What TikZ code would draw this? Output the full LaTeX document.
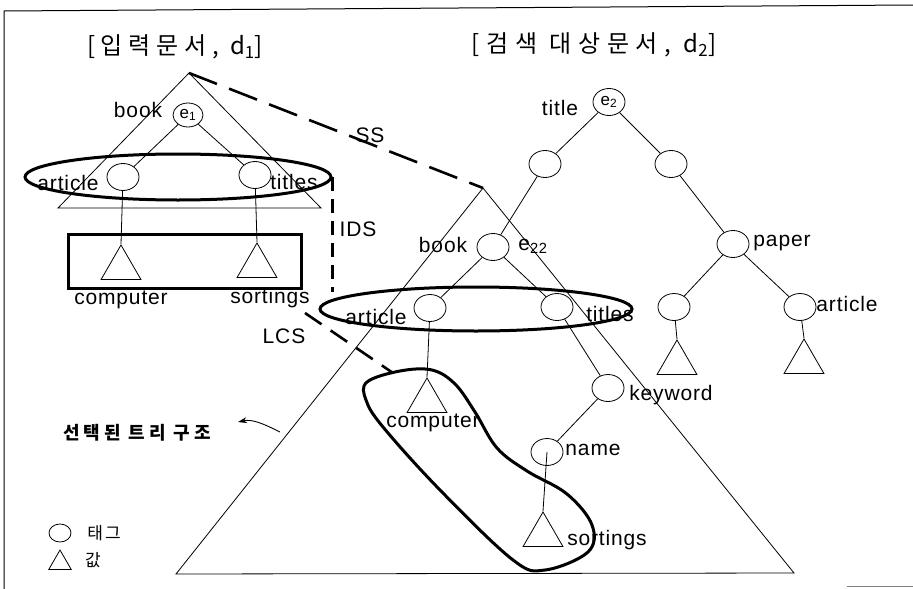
\documentclass[tikz,border=0pt]{standalone}
\usepackage{fontspec}
\setmainfont{Liberation Sans}
\newfontfamily\lbl[LetterSpace=4]{Liberation Sans}
\newfontfamily\krt[LetterSpace=24]{Noto Sans CJK KR}
\newfontfamily\krtb[LetterSpace=28]{Noto Sans CJK KR}
\newfontfamily\krl[LetterSpace=22]{Noto Sans CJK KR}
\newfontfamily\krs[LetterSpace=12]{Noto Sans CJK KR}
\usetikzlibrary{shapes.geometric,arrows.meta,calc}
\begin{document}
\begin{tikzpicture}[x=1pt,y=-1pt,
  tag/.style={draw, ellipse, line width=0.8pt, minimum width=32pt, minimum height=27pt, inner sep=0pt},
  val/.style={draw, regular polygon, regular polygon sides=3, minimum size=46pt, inner sep=0pt, line width=0.8pt},
  lab/.style={font=\fontsize{21}{21}\lbl, inner sep=0pt},
  edge/.style={line width=0.8pt},
  selbox/.style={draw, ellipse, line width=3pt, inner sep=0pt},
  dashlong/.style={line width=2.6pt, dash pattern=on 30pt off 13pt},
  dashshort/.style={line width=2.6pt, dash pattern=on 14pt off 8pt},
  dashmid/.style={line width=2.6pt, dash pattern=on 20pt off 11pt},
  titl/.style={font=\fontsize{24}{24}\krt, inner sep=0pt},
  titlb/.style={font=\fontsize{24}{24}\krtb, inner sep=0pt},
]
\useasboundingbox (0,0) rectangle (913,589);
% frame
\draw[line width=1pt] (913,5) -- (4,11) -- (4,589);
\draw[gray, line width=1pt] (847,586) -- (913,586);

% titles
\node[titl] (t1) at (175,47) {[입력문서, d\textsubscript{1}]};
\node[titlb] (t2) at (594,45) {[검색 대상문서, d\textsubscript{2}]};

% ---------- d1 ----------
\coordinate (A1) at (189,73);
\draw[edge] (A1) -- (58,208) -- (321,208) -- cycle;
\node[tag, minimum width=30pt, minimum height=24pt, fill=white] (e1) at (188,115) {\fontsize{17}{17}\selectfont e\textsubscript{1}};
\node[lab] (lbook1) at (138,110) {book};
\node[tag] (a1) at (123,177) {};
\node[tag] (ti1) at (255,175) {};
\node[lab] (lart1) at (68,183) {article};
\node[lab] (ltit1) at (294,182) {titles};
\node[val] (v1) at (121,268) {};
\node[val] (v2) at (257,266) {};
\draw[edge] (e1) -- (a1);
\draw[edge] (e1) -- (ti1);
\draw[edge] (a1) -- (v1.corner 1);
\draw[edge] (ti1) -- (v2.corner 1);
\node[selbox, minimum width=306pt, minimum height=46pt] (sel1) at (178,177) {};
\draw[line width=3pt] (68,234) rectangle (301,288);
\node[lab] (lcomp1) at (121,300) {computer};
\node[lab] (lsort1) at (270,298) {sortings};

% ---------- d2 ----------
\coordinate (A2) at (483,188);
\draw[edge] (A2) -- (176,574) -- (794,573) -- cycle;
\node[tag, fill=white] (e2) at (609,102) {\fontsize{17}{17}\selectfont e\textsubscript{2}};
\node[lab] (ltitle2) at (560,108) {title};
\node[tag] (l2a) at (545,164) {};
\node[tag] (l2b) at (671,164) {};
\node[tag] (book2) at (493,247) {};
\node[lab] (lbook2) at (443,245) {book};
\node[lab] (le22) at (533,246) {e\textsubscript{22}};
\node[tag] (paper) at (733,244) {};
\node[lab] (lpaper) at (782,243) {paper};
\node[tag] (art2) at (430,308) {};
\node[lab] (lart2) at (376,317) {article};
\node[tag] (tit2) at (557,307) {};
\node[lab] (ltit2) at (610,314) {titles};
\node[tag] (pc1) at (674,307) {};
\node[tag] (pc2) at (800,307) {};
\node[lab] (lart3) at (847,304) {article};
\node[val] (v5) at (677,363) {};
\node[val] (v6) at (804,362) {};
\node[val] (v3) at (427,401) {};
\node[lab] (lcomp2) at (433,423) {computer};
\node[tag] (kw) at (608,388) {};
\node[lab] (lkw) at (671,395) {keyword};
\node[tag] (name) at (547,452) {};
\node[lab] (lname) at (593,450) {name};
\node[val] (v4) at (543,535) {};
\node[lab] (lsort2) at (607,540) {sortings};

\draw[edge] (e2) -- (l2a);
\draw[edge] (e2) -- (l2b);
\draw[edge] (l2a) -- (book2);
\draw[edge] (l2b) -- (paper);
\draw[edge] (book2) -- (art2);
\draw[edge] (book2) -- (tit2);
\draw[edge] (paper) -- (pc1);
\draw[edge] (paper) -- (pc2);
\draw[edge] (pc1) -- (v5.corner 1);
\draw[edge] (pc2) -- (v6.corner 1);
\draw[edge] (art2) -- (v3.corner 1);
\draw[edge] (tit2) -- (kw);
\draw[edge] (kw) -- (name);
\draw[edge] (name.center) -- (v4.corner 1);

\node[selbox, minimum width=312pt, minimum height=44pt] (sel2) at (476,309) {};

% selected loop
\coordinate (loopTop) at (393,373);
\draw[line width=3pt] plot[smooth cycle, tension=0.6] coordinates {
 (367,382) (400,371) (432,370) (455,384) (475,412) (497,448) (527,471)
 (567,494) (592,525) (588,552) (545,570) (513,560) (440,490) (383,427) (366,400)};

% connectors SS, IDS, LCS
\draw[dashlong] (A1) -- (A2);
\node[lab] (lss) at (370,135) {SS};
\draw[dashshort] (sel1.east) -- (sel1.east |- sel2.north west);
\node[lab] (lids) at (358,229) {IDS};
\coordinate (lcsA) at (305,313);
\draw[dashmid] (lcsA) -- (loopTop);
\node[lab] (llcs) at (284,336) {LCS};

% selected tree label
\node[font=\fontsize{18}{18}\krl\bfseries, inner sep=0pt] (lsel) at (137,433) {선택된 트리 구조};
\coordinate (arrA) at (280,432);
\coordinate (arrB) at (238,422);
\draw[line width=0.9pt, -{Stealth[length=9pt,width=6pt]}] (arrA) .. controls (262,423) and (252,419) .. (arrB);

% legend
\node[draw, ellipse, line width=0.8pt, minimum width=22pt, minimum height=18pt, inner sep=0pt] (legc) at (60,533) {};
\node[font=\fontsize{17}{17}\krs, inner sep=0pt] (legct) at (104,533) {태그};
\node[draw, regular polygon, regular polygon sides=3, minimum size=26pt, inner sep=0pt, line width=0.8pt] (legt) at (60,563) {};
\node[font=\fontsize{17}{17}\krs, inner sep=0pt] (legtt) at (93,560) {값};
\end{tikzpicture}
\end{document}
